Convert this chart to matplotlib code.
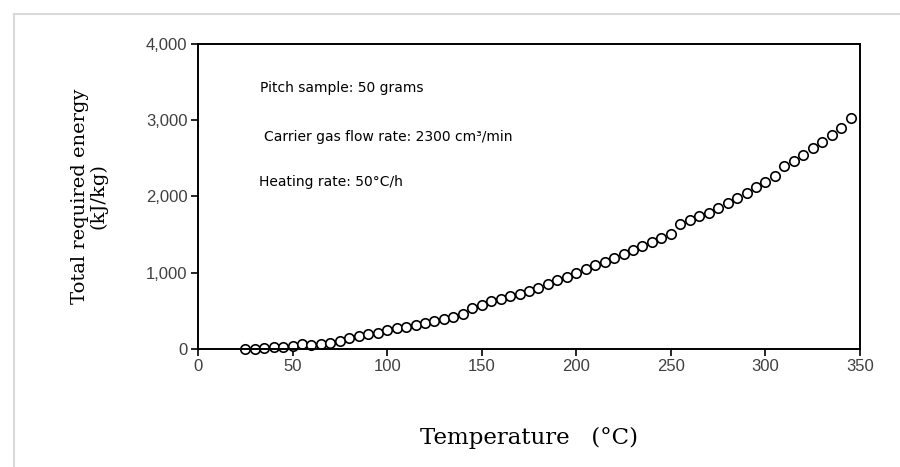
import matplotlib
matplotlib.use("Agg")
from matplotlib import pyplot as plt
from matplotlib.patches import Rectangle
from matplotlib.ticker import FuncFormatter

# temperature (C) and total required energy (kJ/kg)
temperature = list(range(25, 350, 5))
energy = [0, 5, 10, 25, 30, 40, 60, 50, 70, 85,
          110, 140, 175, 195, 205, 250, 270, 295, 320, 345,
          370, 395, 425, 455, 540, 580, 625, 660, 690, 725,
          765, 805, 850, 900, 950, 1000, 1050, 1100, 1140, 1190,
          1250, 1300, 1350, 1400, 1450, 1510, 1640, 1690, 1740, 1790,
          1850, 1910, 1980, 2050, 2120, 2190, 2270, 2400, 2470, 2550,
          2630, 2720, 2800, 2900, 3030]

notes = ["Pitch sample: 50 grams",
         "Carrier gas flow rate: 2300 cm\u00b3/min",
         "Heating rate: 50\u00b0C/h"]

fig = plt.figure(figsize=(9, 4.67), dpi=100)
# light frame round the chart area
fig.patches.append(Rectangle((14 / 900, -0.1), 1.2, 1 - 14 / 467 + 0.1,
                             transform=fig.transFigure, fill=False,
                             edgecolor='#d9d9d9', linewidth=1.5))

ax = fig.add_axes([198 / 900, 118 / 467, 662 / 900, 305 / 467])
ax.plot(temperature, energy, 'o', markersize=6.8, markerfacecolor='white',
        markeredgecolor='black', markeredgewidth=1.2, clip_on=False)

ax.set_xlim(0, 350)
ax.set_ylim(0, 4000)
ax.set_xticks(range(0, 351, 50))
ax.set_yticks(range(0, 4001, 1000))
ax.yaxis.set_major_formatter(FuncFormatter(lambda v, p: f"{int(v):,}"))
ax.tick_params(direction='out', length=5, width=1.2, labelsize=12,
               labelcolor='#404040', pad=2)
ax.tick_params(axis='y', pad=2.5)
for t in ax.get_xticklabels() + ax.get_yticklabels():
    t.set_family('Liberation Sans')
for s in ax.spines.values():
    s.set_linewidth(1.4)

ax.set_xlabel("Temperature   (\u00b0C)", family='DejaVu Serif', fontsize=16.5,
              labelpad=38)
ax.set_ylabel("Total required energy\n(kJ/kg)", family='DejaVu Serif',
              fontsize=14, labelpad=28, linespacing=1.0)

for note, (x, y) in zip(notes, [(33, 3370), (35, 2730), (32, 2140)]):
    ax.text(x, y, note, fontsize=10, family='DejaVu Sans', color='black')

fig.savefig("out.png", dpi=100)
